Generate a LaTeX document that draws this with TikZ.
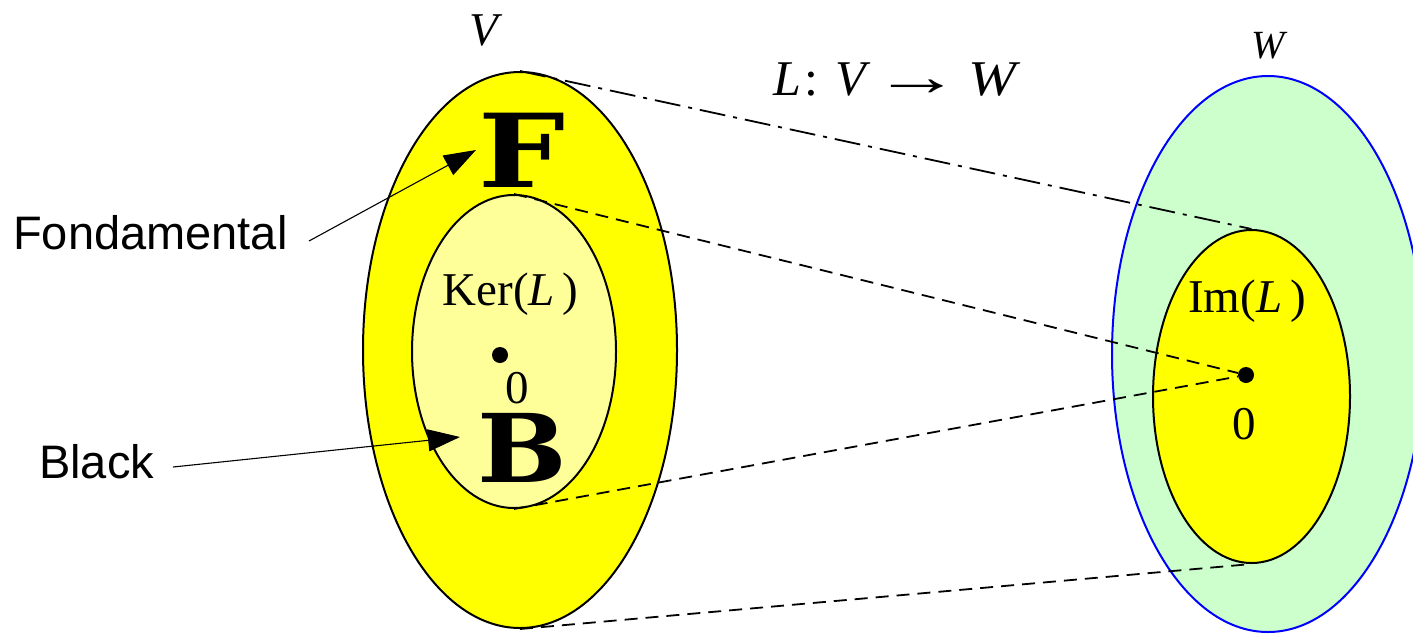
\documentclass[tikz,border=0pt]{standalone}
\usepackage{fontspec}
\setmainfont{Liberation Serif}
\newfontfamily\labelfont{Liberation Sans}
\newfontfamily\heavyfont{DejaVu Serif}
\usetikzlibrary{shapes.geometric,arrows.meta}
\definecolor{vyellow}{RGB}{255,255,0}
\definecolor{keryellow}{RGB}{255,255,153}
\definecolor{wgreen}{RGB}{204,255,204}
\definecolor{wblue}{RGB}{0,0,255}
\begin{document}
\begin{tikzpicture}[x=1pt,y=-1pt,
  setshape/.style={ellipse, draw=black, line width=2pt, inner sep=0pt},
  serif/.style={font=\fontsize{47}{56}\selectfont, inner sep=0pt},
  sans/.style={font=\labelfont\fontsize{47}{56}\selectfont, inner sep=0pt},
  bigletter/.style={font=\heavyfont\bfseries\fontsize{102}{110}\selectfont, inner sep=0pt},
  zerodot/.style={circle, fill=black, inner sep=0pt, minimum size=16pt},
  dashline/.style={line width=1.8pt, dash pattern=on 13pt off 8pt},
  dashdotline/.style={line width=1.8pt, dash pattern=on 26pt off 8pt on 4pt off 8pt},
  pointer/.style={line width=1.1pt, -{Triangle[length=32pt,width=22pt]}}
]
\useasboundingbox (0,0) rectangle (1413,633);
% sets
\node[setshape, fill=vyellow, minimum width=314pt, minimum height=556pt] (V) at (520,350) {};
\node[setshape, fill=keryellow, minimum width=204pt, minimum height=313pt] (Ker) at (514,351.5) {};
\node[setshape, draw=wblue, fill=wgreen, minimum width=312pt, minimum height=556pt] (W) at (1268,354) {};
\node[setshape, fill=vyellow, minimum width=197pt, minimum height=333pt] (Im) at (1251.5,396.5) {};
% labels
\node[serif, anchor=base] (Vlabel) at (486,45) {\textit{V}};
\node[anchor=base, inner sep=0pt, font=\fontsize{40}{48}\selectfont] (Wlabel) at (1270,58) {\textit{W}};
\node[anchor=base west, inner sep=0pt, font=\fontsize{50}{60}\selectfont] (map) at (773,95)
  {\textit{L}\hspace{0.06em}:\hspace{0.35em}\textit{V}\hspace{0.05em}\scalebox{1.75}[1.1]{→}\hspace{0.15em}\scalebox{1.15}[1]{\textit{W}}};
\node[serif, anchor=base] (kerlabel) at (510.5,305) {Ker(\textit{L}\,)};
\node[serif, anchor=base] (imlabel) at (1247,312) {Im(\textit{L}\,)};
\node[zerodot] (kerdot) at (500,355) {};
\node[zerodot] (imdot) at (1246,375) {};
\node[serif, anchor=base] (kerzero) at (517,403) {0};
\node[serif, anchor=base] (imzero) at (1244,439) {0};
\node[bigletter, anchor=base, xscale=1.2] (bigF) at (522,187) {F};
\node[bigletter, anchor=base, xscale=1.04, yscale=0.93] (bigB) at (522,482) {B};
\node[sans, anchor=base west] (fond) at (13,249) {Fondamental};
\node[sans, anchor=base west] (black) at (39,478) {Black};
% mapping lines
\draw[dashdotline] (V.north) -- (Im.north);
\draw[dashline] (Ker.north) -- (imdot);
\draw[dashline] (Ker.south) -- (imdot);
\draw[dashline] (V.south) -- (Im.south);
% pointers
\coordinate (fondtail) at (309,241);
\coordinate (fondtip) at (476,150);
\coordinate (blacktail) at (173,467);
\coordinate (blacktip) at (460,437);
\draw[pointer] (fondtail) -- (fondtip);
\draw[pointer] (blacktail) -- (blacktip);
\end{tikzpicture}
\end{document}
